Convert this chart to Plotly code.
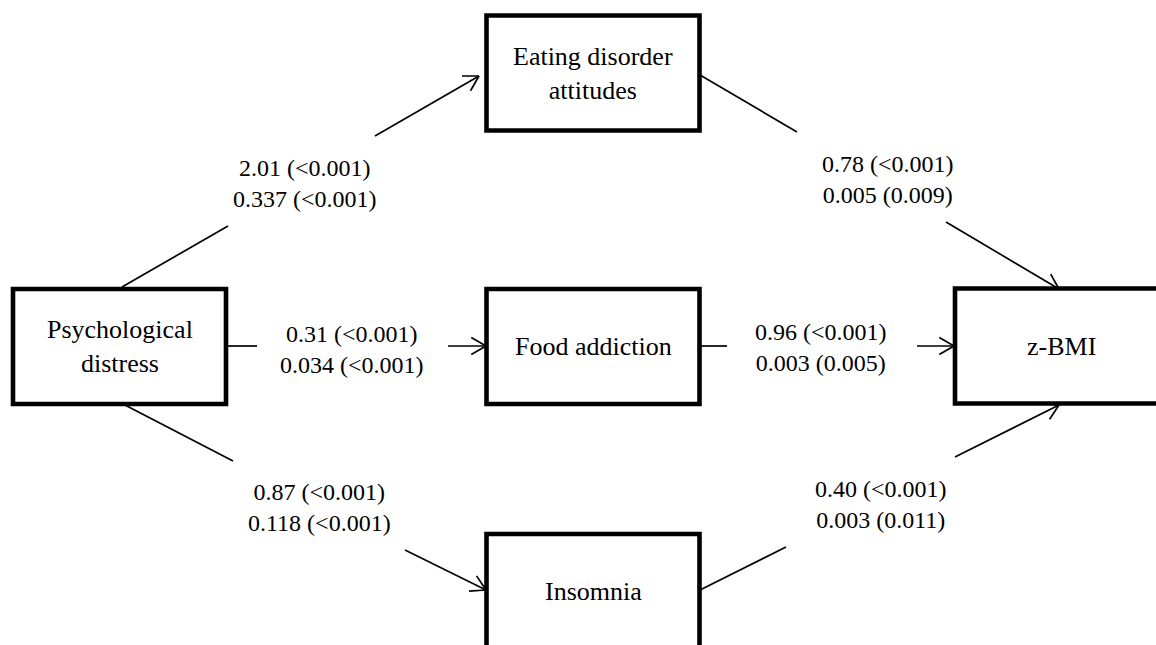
import math
import plotly.graph_objects as go

# ---------------- data ----------------
nodes = ["Psychological distress", "Eating disorder attitudes", "Food addiction", "Insomnia", "z-BMI"]
node_labels = ["Psychological<br>distress", "Eating disorder<br>attitudes", "Food addiction", "Insomnia", "z-BMI"]

path_from = ["Psychological distress", "Psychological distress", "Psychological distress",
             "Eating disorder attitudes", "Food addiction", "Insomnia"]
path_to = ["Eating disorder attitudes", "Food addiction", "Insomnia", "z-BMI", "z-BMI", "z-BMI"]
coef_a = [2.01, 0.31, 0.87, 0.78, 0.96, 0.40]
p_a = ["<0.001", "<0.001", "<0.001", "<0.001", "<0.001", "<0.001"]
coef_b = [0.337, 0.034, 0.118, 0.005, 0.003, 0.003]
p_b = ["<0.001", "<0.001", "<0.001", "0.009", "0.005", "0.011"]

# ---------------- layout (diagram geometry, pixels) ----------------
W, H = 1156, 645
BOX_W, BOX_H = 213, 115
node_center = {
    "Psychological distress": (119.5, 346.5),
    "Eating disorder attitudes": (593, 73),
    "Food addiction": (593, 346.5),
    "Insomnia": (593, 591.5),
    "z-BMI": (1061.5, 346),
}
# each path: first segment (from box), second segment (ending with arrow tip)
path_geom = [
    [(122, 287), (228, 226), (375, 136), (479, 76)],
    [(226, 346), (257, 346), (448, 346), (486, 346)],
    [(123, 404), (233, 461), (405, 550), (486, 590)],
    [(700, 75), (797, 132), (946, 222), (1059, 289)],
    [(700, 346), (727, 346), (917, 346), (954, 346)],
    [(700, 590), (786, 547), (955, 457), (1059, 405)],
]
label_pos = [(305, 183), (352, 349), (319.5, 507.5), (888, 179), (821, 347), (880.5, 504.5)]

FONT = "Liberation Serif, Times New Roman, serif"
FS_NUM = 24
FS_NODE = 26
LW = 1.7
HEAD_LEN = 17
HEAD_ANG = math.radians(30)

fig = go.Figure()

for geom in path_geom:
    p0, p1, p2, p3 = geom
    xs = [p0[0], p1[0], None, p2[0], p3[0], None]
    ys = [p0[1], p1[1], None, p2[1], p3[1], None]
    ang = math.atan2(p3[1] - p2[1], p3[0] - p2[0])
    for s in (1, -1):
        a = ang + math.pi + s * HEAD_ANG
        xs += [p3[0], p3[0] + HEAD_LEN * math.cos(a), None]
        ys += [p3[1], p3[1] + HEAD_LEN * math.sin(a), None]
    fig.add_trace(go.Scatter(x=xs, y=ys, mode="lines",
                             line=dict(color="black", width=LW),
                             hoverinfo="skip", showlegend=False))

shapes = []
annotations = []
for name, label in zip(nodes, node_labels):
    cx, cy = node_center[name]
    shapes.append(dict(type="rect", xref="x", yref="y",
                       x0=cx - BOX_W / 2, x1=cx + BOX_W / 2,
                       y0=cy - BOX_H / 2, y1=cy + BOX_H / 2,
                       line=dict(color="black", width=4.6), fillcolor="white", layer="above"))
    annotations.append(dict(x=cx, y=cy, xref="x", yref="y", text=label, showarrow=False,
                            xanchor="center", yanchor="middle",
                            font=dict(family=FONT, size=FS_NODE, color="black")))

for (lx, ly), ca, pa, cb, pb in zip(label_pos, coef_a, p_a, coef_b, p_b):
    txt = f"{ca:.2f} ({pa.replace('<', '&lt;')})<br>{cb:.3f} ({pb.replace('<', '&lt;')})"
    annotations.append(dict(x=lx, y=ly, xref="x", yref="y", text=txt, showarrow=False,
                            xanchor="center", yanchor="middle",
                            font=dict(family=FONT, size=FS_NUM, color="black")))

fig.update_layout(
    width=W, height=H,
    margin=dict(l=0, r=0, t=0, b=0),
    paper_bgcolor="white", plot_bgcolor="white",
    xaxis=dict(range=[0, W], visible=False, fixedrange=True),
    yaxis=dict(range=[H, 0], visible=False, fixedrange=True),
    shapes=shapes, annotations=annotations,
    showlegend=False,
)

fig.write_html("out.html", config={"displayModeBar": False},
               post_script="document.body.style.margin='0';document.body.style.overflow='hidden';")
